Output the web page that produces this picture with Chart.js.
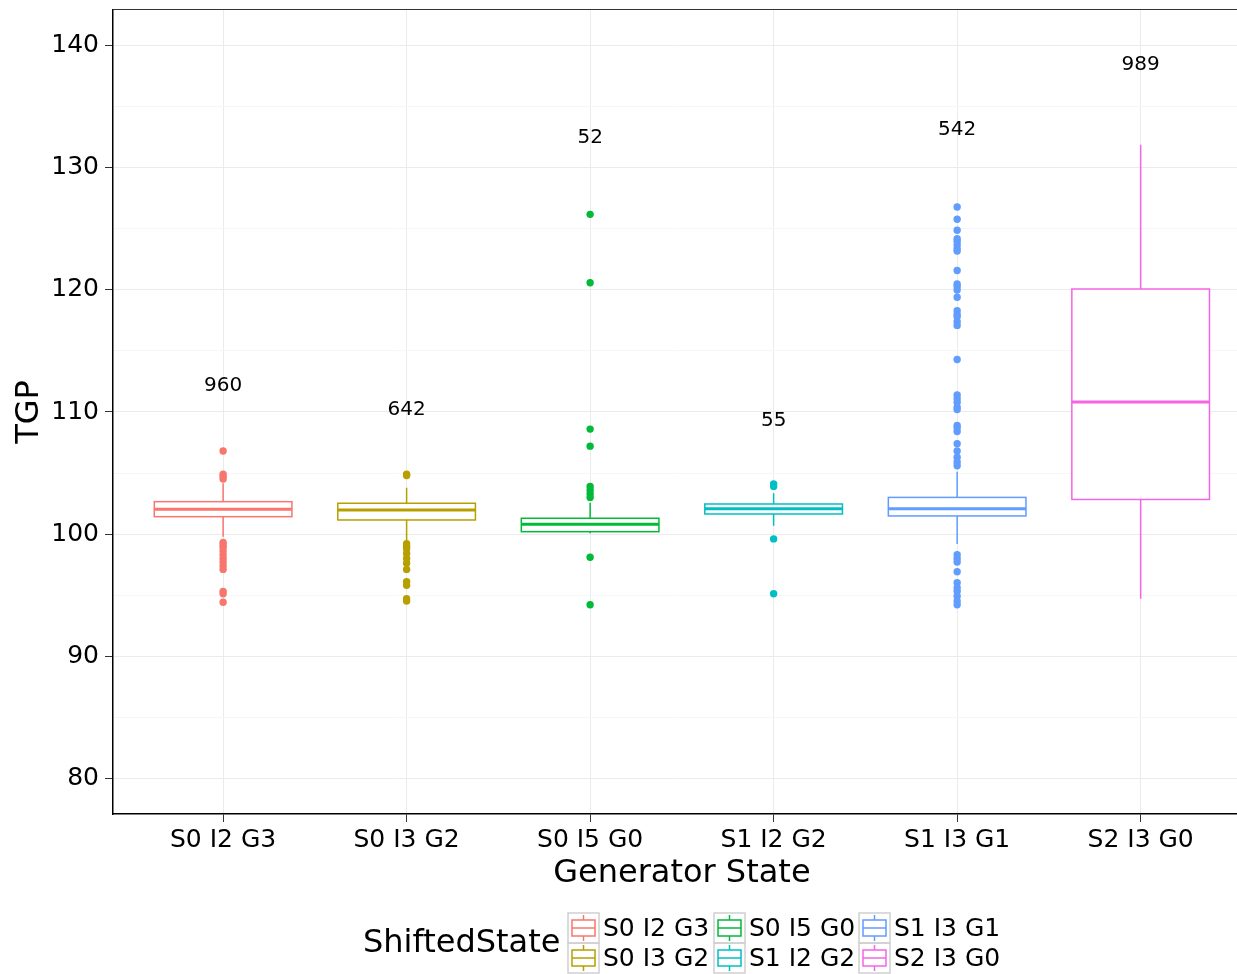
<!DOCTYPE html>
<html>
<head>
<meta charset="utf-8">
<script src="https://cdn.jsdelivr.net/npm/chart.js@4.4.1/dist/chart.umd.min.js"></script>
<style>
  html, body { margin: 0; padding: 0; background: #fff; }
</style>
</head>
<body>
<canvas id="chart" width="1237" height="974"></canvas>
<script>
const categories = ['S0 I2 G3', 'S0 I3 G2', 'S0 I5 G0', 'S1 I2 G2', 'S1 I3 G1', 'S2 I3 G0'];
const colors = ['#F8766D', '#B79F00', '#00BA38', '#00BFC4', '#619CFF', '#F564E3'];

// box stats per state
const q1 = [101.42, 101.15, 100.19, 101.64, 101.48, 102.83];
const median = [102.02, 101.97, 100.80, 102.07, 102.07, 110.82];
const q3 = [102.65, 102.52, 101.29, 102.46, 103.00, 120.08];
const whiskerLow = [99.78, 99.40, 100.06, 100.68, 99.18, 94.70];
const whiskerHigh = [104.15, 103.80, 102.57, 103.34, 105.10, 131.90];
const counts = [960, 642, 52, 55, 542, 989];

// outliers
const outS0I2G3 = [106.8, 104.9, 104.7, 104.5, 99.3, 99.1, 98.9, 98.6, 98.3, 98.0, 97.7, 97.4, 97.1, 95.3, 95.1, 94.4];
const outS0I3G2 = [104.9, 104.8, 99.2, 99.0, 98.8, 98.4, 98.0, 97.6, 97.1, 96.1, 95.8, 94.7, 94.5];
const outS0I5G0 = [126.2, 120.6, 108.6, 107.2, 103.9, 103.6, 103.3, 103.0, 98.1, 94.2];
const outS1I2G2 = [104.1, 103.9, 99.6, 95.1];
const outS1I3G1 = [126.8, 125.8, 124.9, 124.2, 124.0, 123.7, 123.4, 123.2, 121.6, 120.5, 120.3, 120.0, 119.4,
  118.3, 118.0, 117.8, 117.4, 117.1, 114.3, 111.4, 111.1, 110.8, 110.4, 110.2, 108.9, 108.7, 108.4, 107.4,
  106.8, 106.3, 105.9, 105.6, 98.3, 98.0, 97.7, 96.9, 96.0, 95.6, 95.3, 94.9, 94.5, 94.2];
const outS2I3G0 = [];
const outliers = [outS0I2G3, outS0I3G2, outS0I5G0, outS1I2G2, outS1I3G1, outS2I3G0];

const yTicks = [80, 90, 100, 110, 120, 130, 140];
const yMinor = [85, 95, 105, 115, 125, 135];

const FONT = '"DejaVu Sans", sans-serif';
const BOX_HALF = 0.375;

const boxPlugin = {
  id: 'boxes',
  beforeDatasetsDraw(chart) {
    const { ctx, scales: { x, y } } = chart;
    ctx.save();
    categories.forEach((c, i) => {
      const cx = x.getPixelForValue(i + 1);
      const x0 = x.getPixelForValue(i + 1 - BOX_HALF);
      const x1 = x.getPixelForValue(i + 1 + BOX_HALF);
      const yq1 = y.getPixelForValue(q1[i]);
      const yq3 = y.getPixelForValue(q3[i]);
      ctx.strokeStyle = colors[i];
      ctx.lineWidth = 1.5;
      // whiskers
      ctx.beginPath();
      ctx.moveTo(cx, y.getPixelForValue(whiskerHigh[i]));
      ctx.lineTo(cx, yq3);
      ctx.moveTo(cx, yq1);
      ctx.lineTo(cx, y.getPixelForValue(whiskerLow[i]));
      ctx.stroke();
      // box
      ctx.fillStyle = '#fff';
      ctx.fillRect(x0, yq3, x1 - x0, yq1 - yq3);
      ctx.strokeRect(x0, yq3, x1 - x0, yq1 - yq3);
      // median
      ctx.lineWidth = 3;
      ctx.beginPath();
      const ym = y.getPixelForValue(median[i]);
      ctx.moveTo(x0, ym);
      ctx.lineTo(x1, ym);
      ctx.stroke();
    });
    ctx.restore();
  },
  afterDatasetsDraw(chart) {
    const { ctx, scales: { x, y }, chartArea } = chart;
    ctx.save();
    // count labels at 1.05 * group max
    ctx.font = '20px ' + FONT;
    ctx.fillStyle = '#000';
    ctx.textAlign = 'center';
    ctx.textBaseline = 'middle';
    categories.forEach((c, i) => {
      const top = Math.max(whiskerHigh[i], ...outliers[i]);
      ctx.fillText(String(counts[i]), x.getPixelForValue(i + 1), y.getPixelForValue(top * 1.05));
    });
    // top border
    ctx.strokeStyle = '#333';
    ctx.lineWidth = 1;
    ctx.beginPath();
    ctx.moveTo(chartArea.left, chartArea.top - 0.5);
    ctx.lineTo(chartArea.right, chartArea.top - 0.5);
    ctx.stroke();
    ctx.restore();
  },
  afterDraw(chart) {
    const { ctx, scales: { x } } = chart;
    ctx.save();
    ctx.fillStyle = '#000';
    ctx.textBaseline = 'middle';
    ctx.textAlign = 'center';
    // x title is centred on the whole panel (which runs past the right edge)
    ctx.font = '32px ' + FONT;
    ctx.fillText('Generator State', x.getPixelForValue(3.5), 874);
    ctx.textAlign = 'left';
    ctx.fillText('ShiftedState', 363, 944);
    ctx.font = '25px ' + FONT;
    const colX = [568, 714, 859];
    const rowY = [913, 943];
    categories.forEach((c, i) => {
      const kx = colX[Math.floor(i / 2)];
      const ky = rowY[i % 2];
      ctx.strokeStyle = '#D0D0D0';
      ctx.lineWidth = 1.5;
      ctx.strokeRect(kx, ky, 31, 30);
      ctx.strokeStyle = colors[i];
      ctx.lineWidth = 1.5;
      ctx.beginPath();
      ctx.moveTo(kx + 15.5, ky + 2);
      ctx.lineTo(kx + 15.5, ky + 28);
      ctx.stroke();
      ctx.fillStyle = '#fff';
      ctx.fillRect(kx + 4, ky + 7, 23, 16);
      ctx.strokeRect(kx + 4, ky + 7, 23, 16);
      ctx.beginPath();
      ctx.moveTo(kx + 4, ky + 15);
      ctx.lineTo(kx + 27, ky + 15);
      ctx.stroke();
      ctx.fillStyle = '#000';
      ctx.fillText(c, kx + 35, ky + 16);
    });
    ctx.restore();
  }
};

const datasets = categories.map((c, i) => ({
  label: c,
  data: outliers[i].map(v => ({ x: i + 1, y: v })),
  backgroundColor: colors[i],
  borderColor: colors[i],
  pointRadius: 3.7,
  borderWidth: 0
}));

new Chart(document.getElementById('chart'), {
  type: 'scatter',
  data: { datasets },
  plugins: [boxPlugin],
  options: {
    responsive: false,
    animation: false,
    layout: { autoPadding: false, padding: { top: 10, right: 0, left: 0, bottom: 0 } },
    plugins: { legend: { display: false }, tooltip: { enabled: false } },
    scales: {
      x: {
        type: 'linear',
        min: 0.4,
        max: 6.525,
        afterBuildTicks: s => { s.ticks = categories.map((c, i) => ({ value: i + 1 })); },
        afterFit: s => { s.height = 160; s.paddingLeft = 0; s.paddingRight = 0; },
        ticks: {
          callback: v => categories[v - 1],
          font: { size: 25, family: FONT },
          color: '#000',
          padding: 3,
          autoSkip: false,
          maxRotation: 0
        },
        grid: { color: '#EBEBEB', tickColor: '#333', tickLength: 8, lineWidth: 1 },
        border: { color: '#000', width: 1.5 }
      },
      y: {
        min: 77.05,
        max: 142.95,
        afterBuildTicks: s => { s.ticks = yTicks.concat(yMinor).sort((a, b) => a - b).map(v => ({ value: v })); },
        afterFit: s => { s.width = 113; s.paddingTop = 0; s.paddingBottom = 0; },
        ticks: {
          callback: v => yTicks.includes(v) ? String(v) : '',
          font: { size: 25, family: FONT },
          color: '#000',
          padding: 6,
          autoSkip: false
        },
        grid: {
          color: c => yTicks.includes(c.tick && c.tick.value) ? '#EBEBEB' : '#F6F6F6',
          tickColor: c => yTicks.includes(c.tick && c.tick.value) ? '#333' : 'rgba(0,0,0,0)',
          tickLength: 8,
          lineWidth: 1
        },
        border: { color: '#000', width: 1.5 },
        title: {
          display: true,
          text: 'TGP',
          font: { size: 32, family: FONT },
          color: '#000',
          padding: { top: 10, bottom: 0 }
        }
      }
    }
  }
});
</script>
</body>
</html>
